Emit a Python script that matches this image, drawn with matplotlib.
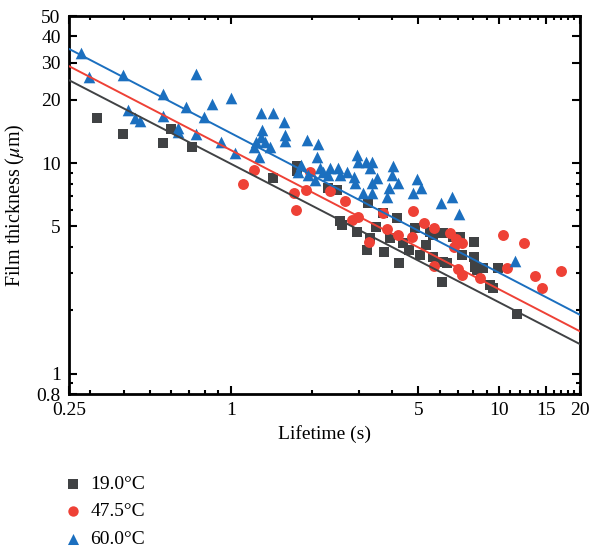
import numpy as np
import matplotlib.pyplot as plt
from matplotlib.ticker import FixedLocator, NullFormatter, FixedFormatter

# Lifetime (s) and film thickness (um)
t19 = [0.318, 0.398, 0.560, 0.600, 0.718, 1.44, 1.77, 1.77, 2.31, 2.49,
       2.56, 2.60, 2.96, 3.25, 3.70, 4.17, 3.22, 3.31, 3.48, 3.73,
       3.92, 4.24, 4.39, 4.62, 4.86, 5.08, 5.34, 5.53, 5.67, 5.67,
       6.13, 6.18, 6.18, 6.40, 6.73, 7.15, 7.27, 8.06, 8.06, 8.13,
       8.27, 8.71, 9.25, 9.49, 9.91, 11.7]
h19 = [16.4, 13.7, 12.5, 14.5, 11.9, 8.50, 9.69, 9.17, 7.61, 7.45,
       5.31, 5.08, 4.71, 6.46, 5.79, 5.48, 3.87, 4.41, 4.97, 3.78,
       4.41, 3.35, 4.17, 3.87, 4.92, 3.66, 4.08, 4.71, 4.55, 3.58,
       2.72, 4.66, 3.39, 3.35, 4.46, 4.46, 3.66, 4.22, 3.58, 3.21,
       3.11, 3.18, 2.64, 2.55, 3.18, 1.92]

t47 = [1.11, 1.22, 1.72, 1.75, 1.91, 1.98, 2.35, 2.67, 2.83, 2.98,
       3.28, 3.70, 3.82, 4.20, 4.74, 4.78, 5.25, 5.72, 5.72, 6.56,
       6.79, 6.91, 7.27, 7.03, 7.27, 8.49, 10.3, 10.7, 12.4, 13.6,
       14.4, 17.0]
h47 = [7.96, 9.27, 7.21, 5.99, 7.45, 9.07, 7.37, 6.61, 5.37, 5.55,
       4.22, 5.79, 4.86, 4.55, 4.46, 5.92, 5.19, 4.92, 3.24, 4.66,
       4.00, 4.36, 4.17, 3.14, 2.94, 2.85, 4.55, 3.18, 4.17, 2.91,
       2.55, 3.07]

t60 = [0.277, 0.297, 0.398, 0.415, 0.441, 0.460, 0.560, 0.560, 0.637, 0.637,
       0.682, 0.743, 0.743, 0.796, 0.852, 0.921, 1.00, 1.04, 1.30, 1.44,
       1.58, 1.59, 1.59, 1.31, 1.30, 1.24, 1.34, 1.22, 1.40, 1.28,
       1.93, 2.12, 2.10, 1.83, 1.78, 1.94, 2.06, 2.15, 2.21, 2.35,
       2.31, 2.51, 2.56, 2.71, 2.88, 2.96, 2.98, 3.19, 3.36, 3.31,
       3.51, 3.36, 2.91, 3.11, 3.36, 4.03, 3.99, 4.20, 3.89, 3.82,
       4.94, 5.12, 4.78, 6.07, 6.68, 7.09, 11.5]
h60 = [33.3, 25.6, 26.2, 17.9, 16.4, 15.8, 21.3, 16.7, 14.7, 14.1,
       18.5, 26.5, 13.7, 16.6, 19.1, 12.6, 20.4, 11.2, 17.3, 17.3,
       15.7, 13.6, 12.7, 14.4, 13.3, 12.6, 12.6, 11.9, 11.9, 10.7,
       12.9, 12.3, 10.7, 9.79, 9.07, 8.78, 8.31, 9.48, 9.07, 9.48,
       8.78, 9.48, 8.78, 9.07, 8.59, 10.9, 10.1, 10.1, 10.1, 9.48,
       8.50, 8.04, 8.04, 7.21, 7.21, 9.69, 8.78, 8.04, 7.61, 6.90,
       8.40, 7.61, 7.21, 6.46, 6.90, 5.73, 3.43]

# power-law fits h = a * t^b
fit19 = (9.94, -0.659)
fit47 = (11.54, -0.662)
fit60 = (13.9, -0.664)

labels = ['19.0°C', '47.5°C', '60.0°C']
xticks = [0.25, 1, 5, 10, 15, 20]
yticks = [0.8, 1, 5, 10, 20, 30, 40, 50]

c_black = '#404244'
c_red = '#ee4136'
c_blue = '#1b6fbf'

plt.rcParams['font.family'] = ['Liberation Serif', 'DejaVu Serif']
plt.rcParams['mathtext.fontset'] = 'stix'
plt.rcParams['font.size'] = 14

fig = plt.figure(figsize=(5.93, 5.47), dpi=100)
ax = fig.add_axes([0.1164, 0.2797, 0.8617, 0.691])

ax.set_xscale('log')
ax.set_yscale('log')

s1 = ax.scatter(t19, h19, marker='s', s=50, color=c_black, lw=0, zorder=3, label=labels[0])
s2 = ax.scatter(t47, h47, marker='o', s=62, color=c_red, lw=0, zorder=4, label=labels[1])
s3 = ax.scatter(t60, h60, marker='^', s=70, color=c_blue, lw=0, zorder=5, label=labels[2])

tt = np.array([0.25, 20])
for (a, b), c in zip([fit19, fit47, fit60], [c_black, c_red, c_blue]):
    ax.plot(tt, a * tt ** b, color=c, lw=1.4, zorder=6)

ax.set_xlim(0.25, 20)
ax.set_ylim(0.8, 50)

ax.xaxis.set_major_locator(FixedLocator(xticks))
ax.xaxis.set_major_formatter(FixedFormatter([str(v) for v in xticks]))
ax.yaxis.set_major_locator(FixedLocator(yticks))
ax.yaxis.set_major_formatter(FixedFormatter([str(v) for v in yticks]))
xminor = [0.3, 0.4, 0.5, 0.6, 0.7, 0.8, 0.9, 2, 3, 4, 6, 7, 8, 9,
          11, 12, 13, 14, 16, 17, 18, 19]
yminor = [0.9, 2, 3, 4, 6, 7, 8, 9]
ax.xaxis.set_minor_locator(FixedLocator(xminor))
ax.yaxis.set_minor_locator(FixedLocator(yminor))
ax.xaxis.set_minor_formatter(NullFormatter())
ax.yaxis.set_minor_formatter(NullFormatter())

ax.tick_params(which='both', direction='in', top=True, right=True, width=1.5)
ax.tick_params(which='major', length=6, labelsize=14)
ax.tick_params(axis='x', which='major', pad=6)
ax.tick_params(axis='y', which='major', pad=6)
ax.tick_params(which='minor', length=3)
for sp in ax.spines.values():
    sp.set_linewidth(2)

ax.set_xlabel('Lifetime (s)', fontsize=14, labelpad=4)
ax.set_ylabel(r'Film thickness ($\mu$m)', fontsize=14.5, labelpad=7)

fig.legend(handles=[s1, s2, s3], labels=labels, loc='upper left',
           bbox_to_anchor=(0.09, 0.145), frameon=False, fontsize=14,
           handletextpad=0.3, labelspacing=0.5, markerscale=0.95,
           handlelength=1.2, borderaxespad=0)

fig.savefig('out.png', dpi=100)
